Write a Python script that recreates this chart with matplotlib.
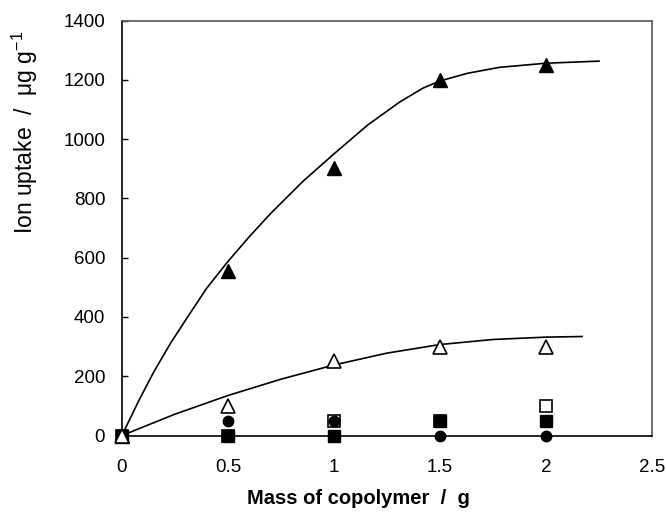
import matplotlib
matplotlib.use("Agg")
import matplotlib.pyplot as plt

# Measured points.
mass = [0, 0.5, 1.0, 1.5, 2.0]
tri_filled = [0, 555, 903, 1200, 1250]
tri_open = [0, 100, 252, 300, 300]
circ_filled = [0, 50, 50, 0, 0]
sq_open = [0, 0, 50, 50, 100]
sq_filled = [0, 0, 0, 50, 50]

# Trend lines.
fit_hi_x = [0, 0.08, 0.15, 0.23, 0.31, 0.4, 0.5, 0.6, 0.7, 0.85, 1.0, 1.16,
            1.31, 1.42, 1.5, 1.63, 1.78, 2.0, 2.25]
fit_hi_y = [0, 118, 214, 312, 400, 497, 587, 670, 748, 855, 950, 1048,
            1125, 1172, 1196, 1222, 1242, 1256, 1263]
fit_lo_x = [0, 0.25, 0.5, 0.75, 1.0, 1.25, 1.5, 1.75, 2.0, 2.17]
fit_lo_y = [0, 72, 135, 190, 238, 278, 307, 324, 332, 334]

xticks = [0, 0.5, 1, 1.5, 2, 2.5]
xticklabels = ["0", "0.5", "1", "1.5", "2", "2.5"]
yticks = [0, 200, 400, 600, 800, 1000, 1200, 1400]

plt.rcParams.update({
    "font.family": ["Liberation Sans", "DejaVu Sans"],
    "font.size": 13.5,
})

fig = plt.figure(figsize=(6.66, 5.13), dpi=100)
ax = fig.add_axes([0.183, 0.151, 0.796, 0.809])

ax.plot(fit_hi_x, fit_hi_y, color="black", lw=1.2, zorder=2)
ax.plot(fit_lo_x, fit_lo_y, color="black", lw=1.2, zorder=2)

# Draw order matters: some markers sit on top of others.
ax.plot(mass, sq_open, "s", mfc="white", mec="black", mew=1.2, ms=9, ls="none",
        zorder=3, clip_on=False)
ax.plot(mass, sq_filled, "s", color="black", ms=9, ls="none", zorder=3.5, clip_on=False)
ax.plot(mass, circ_filled, "o", color="black", ms=7.5, ls="none", zorder=4, clip_on=False)
ax.plot(mass, tri_filled, "^", color="black", ms=10, ls="none", zorder=4, clip_on=False)
ax.plot(mass, tri_open, "^", mfc="white", mec="black", mew=1.2, ms=10, ls="none",
        zorder=5, clip_on=False)

ax.set_xlim(0, 2.5)
ax.set_ylim(0, 1400)
ax.set_xticks(xticks)
ax.set_xticklabels(xticklabels)
ax.set_yticks(yticks)
ax.tick_params(axis="y", direction="in", length=4.5, width=1, pad=12)
ax.tick_params(axis="x", length=0, pad=17)
for s in ax.spines.values():
    s.set_linewidth(1.2)
for s in ("top", "right"):
    ax.spines[s].set_color("#555555")

ax.set_xlabel("Mass of copolymer  /  g", fontweight="bold", fontsize=14.5)
ax.set_ylabel(r"Ion uptake  /  μg g$^{\mathregular{-1}}$", fontsize=16.5)
ax.xaxis.set_label_coords(0.447, -0.128)
ax.yaxis.set_label_coords(-0.155, 0.73)

fig.savefig("out.png", dpi=100)
